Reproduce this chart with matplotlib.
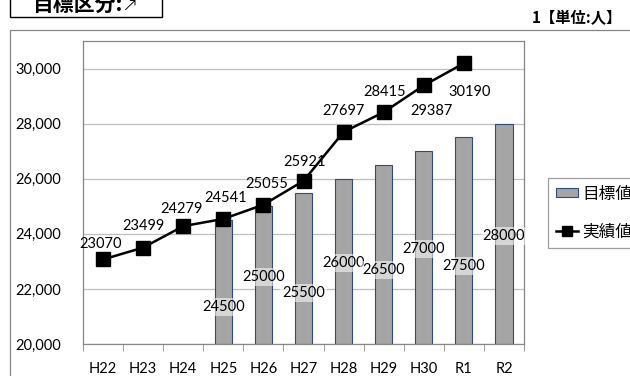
import numpy as np
import matplotlib.pyplot as plt
from matplotlib.patches import Rectangle
from matplotlib.ticker import FuncFormatter, FixedLocator

plt.rcParams['font.family'] = ['Lato', 'Noto Sans CJK JP', 'DejaVu Sans']

years = ['H22', 'H23', 'H24', 'H25', 'H26', 'H27', 'H28', 'H29', 'H30', 'R1', 'R2']

# target values (H25 - R2)
target_years = ['H25', 'H26', 'H27', 'H28', 'H29', 'H30', 'R1', 'R2']
target = [24500, 25000, 25500, 26000, 26500, 27000, 27500, 28000]

# actual values (H22 - R1)
actual_years = ['H22', 'H23', 'H24', 'H25', 'H26', 'H27', 'H28', 'H29', 'H30', 'R1']
actual = [23070, 23499, 24279, 24541, 25055, 25921, 27697, 28415, 29387, 30190]

# label placement
target_label_y = [21345, 22436, 21855, 22945, 22690, 23455, 22836, 23927]
actual_label_off = [(-2, 15), (0, 22), (-2, 17), (2, 21), (3, 21), (1, 19),
                    (0, 21), (1, 20), (8, -26), (6, -29)]

fig = plt.figure(figsize=(6.3, 3.76), dpi=100)
ax = fig.add_axes([83/630, 1-344/376, 441/630, 303/376])

xt = [years.index(y) for y in target_years]
xa = [years.index(y) for y in actual_years]

bars = ax.bar(xt, np.array(target) - 20000, bottom=20000, width=0.43,
              color='#a5a5a5', edgecolor='#2f4b7c', linewidth=0.8, zorder=2,
              label='目標値')
line, = ax.plot(xa, actual, color='black', lw=1.8, marker='s', ms=9.5,
                zorder=4, label='実績値')

for x, v, ly in zip(xt, target, target_label_y):
    ax.text(x, ly, str(v), ha='center', va='center', fontsize=10.5, zorder=5,
            bbox=dict(boxstyle='square,pad=0.15', fc=(1, 1, 1, 0.55),
                      ec='none'))

for x, v, (dx, dy) in zip(xa, actual, actual_label_off):
    ax.annotate(str(v), (x, v), xytext=(dx, dy), textcoords='offset pixels',
                ha='center', va='center', fontsize=10.5, zorder=5)

ax.set_xlim(-0.5, len(years) - 0.5)
ax.set_ylim(20000, 31000)
ax.set_yticks(np.arange(20000, 30001, 2000))
ax.yaxis.set_major_formatter(FuncFormatter(lambda v, p: f'{int(v):,}'))
ax.grid(axis='y', color='#bfbfbf', lw=0.9, zorder=0)
ax.set_axisbelow(True)

ax.set_xticks(range(len(years)))
ax.set_xticklabels(years)
ax.xaxis.set_minor_locator(FixedLocator(np.arange(-0.5, len(years), 1)))
ax.tick_params(axis='x', which='major', length=0, pad=13, labelsize=10.5)
ax.tick_params(axis='x', which='minor', length=5, color='#868686')
ax.tick_params(axis='y', length=0, pad=16, labelsize=10.5)
for s in ax.spines.values():
    s.set_color('#868686')
    s.set_linewidth(0.9)

# outer chart frame
fig.patches.append(Rectangle((10/630, -0.1), 1.0, 1 - 30/376 + 0.1,
                             transform=fig.transFigure, fill=False,
                             ec='#868686', lw=0.9))

# header texts
fig.text(32/630, 1 - 4/376, '目標区分:', fontsize=15, fontweight='bold',
         va='center', ha='left', family=['Noto Sans CJK JP'])
fig.text(121/630, 1 - 5/376, '↗', fontsize=14, va='center', ha='left',
         family=['DejaVu Sans'], fontweight='light')
fig.patches.append(Rectangle((10/630, 1 - 17/376), 152/630, 0.2,
                             transform=fig.transFigure, fill=False,
                             ec='black', lw=1.0))
fig.text(622/630, 1 - 18/376, '1【単位:人】', fontsize=11, fontweight='bold',
         va='center', ha='right', family=['Noto Sans CJK JP'])

leg = fig.legend([bars, line], ['目標値', '実績値'], loc='upper left',
                 bbox_to_anchor=(548/630, 1 - 178/376),
                 frameon=True, fancybox=False, edgecolor='#868686',
                 handlelength=1.35, handleheight=0.45, handletextpad=0.25,
                 labelspacing=1.25, borderpad=0.45, borderaxespad=0,
                 markerscale=0.75,
                 prop={'family': ['Noto Sans CJK JP'], 'size': 12})
leg.get_frame().set_linewidth(0.9)

fig.savefig('out.png', dpi=100)
